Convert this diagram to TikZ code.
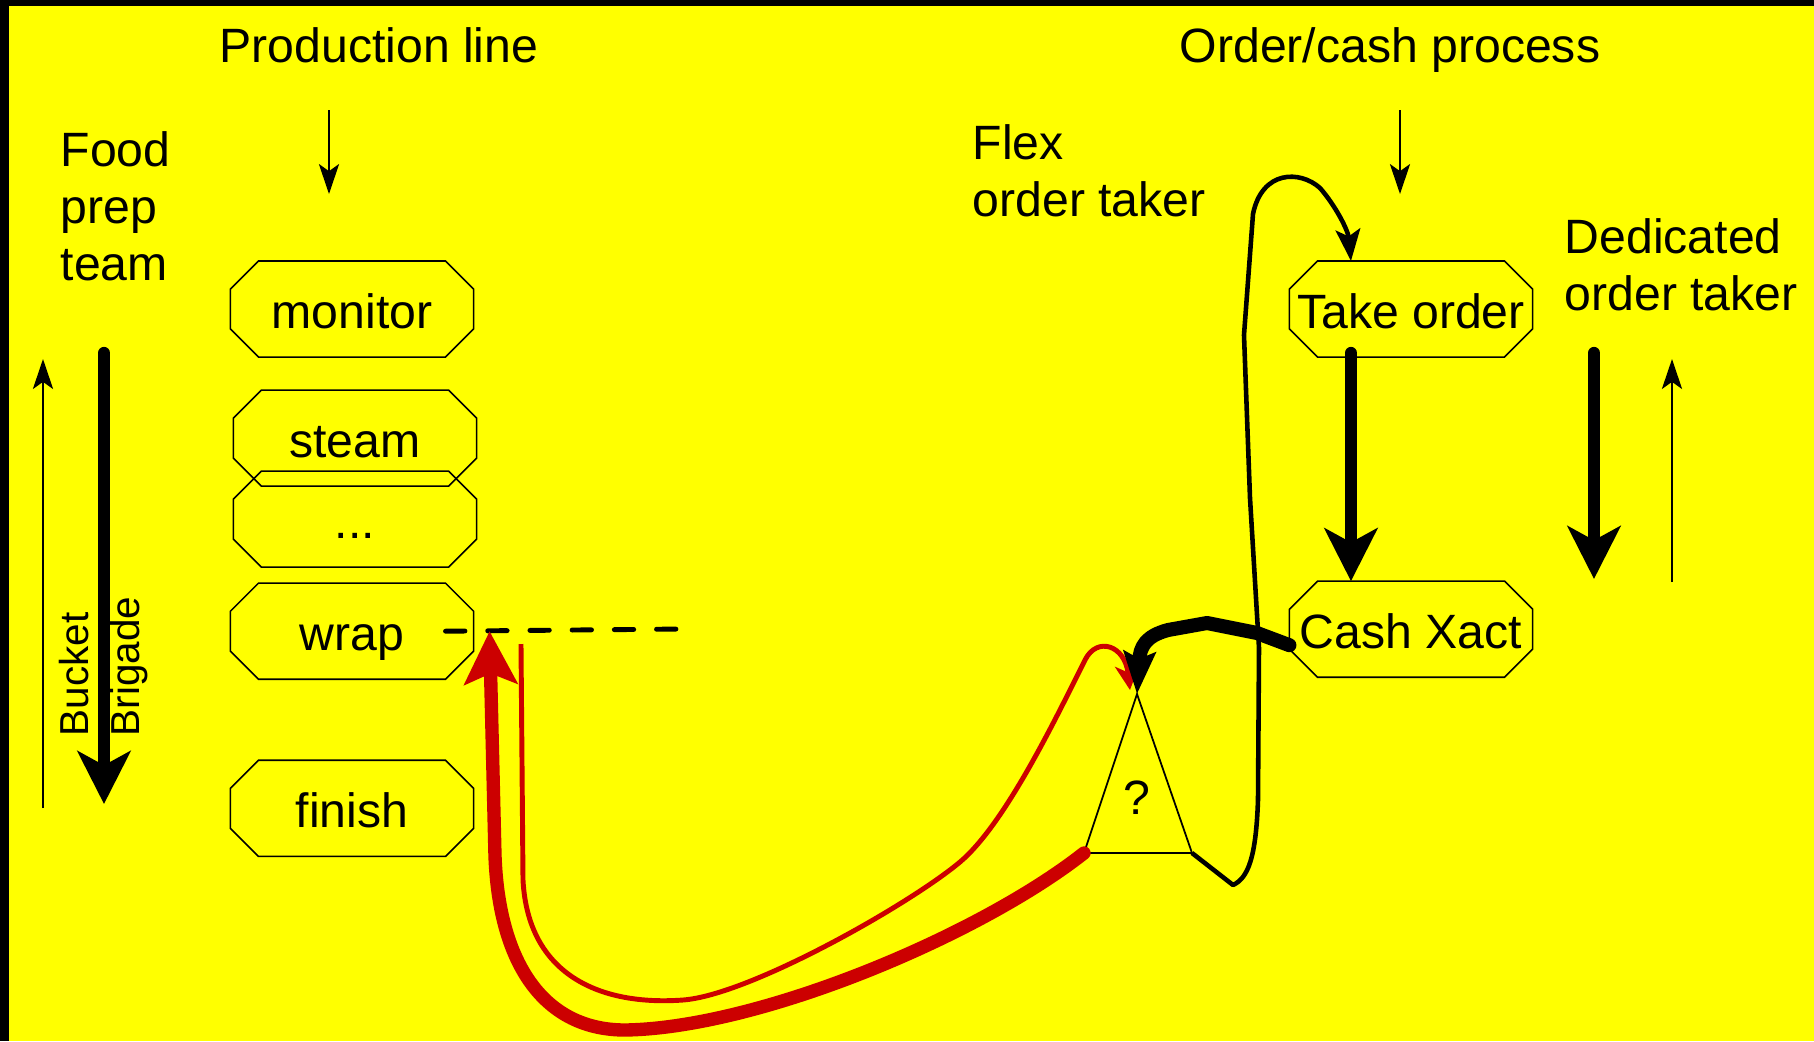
\documentclass[tikz,border=0pt]{standalone}
\usepackage{fontspec}
\setmainfont{Liberation Sans}
\usetikzlibrary{positioning,arrows.meta}
\definecolor{bgyellow}{RGB}{255,255,0}
\definecolor{flowred}{RGB}{204,0,0}
\newcommand{\diagfont}{\fontsize{13.7}{16.2}\selectfont}
\newcommand{\sidefont}{\fontsize{11.5}{14.5}\selectfont}

\begin{document}
\begin{tikzpicture}[
  x=0.01cm,y=-0.01cm,
  stage/.style={rectangle,minimum width=2.43cm,minimum height=0.96cm,inner sep=0pt,outer sep=0pt,text height=11.2pt,text depth=0.2pt,font=\diagfont},
  lbl/.style={inner sep=0pt,font=\diagfont,align=left},
  thinarr/.style={-{Stealth[length=8.5pt,width=5.7pt,inset=2pt]},line width=0.8pt},
  bigarr/.style={-{Stealth[length=15pt,width=15pt,inset=4pt]},line width=3.5pt,line cap=round},
  redbig/.style={flowred,-{Stealth[length=15pt,width=15pt,inset=3pt]},line width=3.8pt,line cap=round,line join=round},
  redthin/.style={flowred,-{Stealth[length=7pt,width=7pt,inset=2pt]},line width=1.4pt,line join=round},
  loop/.style={-{Stealth[length=9pt,width=7pt,inset=2pt]},line width=1.3pt,line join=round},
  handoff/.style={-{Stealth[length=12pt,width=9pt,inset=2pt]},line width=4pt,line cap=round,line join=round}
]
\useasboundingbox (0,0) rectangle (1814,1041);
\fill[bgyellow] (0,0) rectangle (1814,1041);
\fill (0,0) rectangle (1814,6);
\fill (0,0) rectangle (9,1041);

% headings and side labels
\node[lbl,anchor=base] (prod) at (379,62) {Production line};
\node[lbl,anchor=base] (order) at (1390,62) {Order/cash process};
\node[lbl,anchor=north west] (food) at (60,131) {Food\\prep\\team};
\node[lbl,anchor=north west] (flex) at (972,124) {Flex\\order taker};
\node[lbl,anchor=north west] (dedi) at (1564,218) {Dedicated\\order taker};
\node[lbl,font=\sidefont,rotate=90,anchor=west] (bucket) at (104,737) {Bucket\\Brigade};

% production line
\node[stage] (monitor) at (352,309) {monitor};
\node[stage,below=0.33cm of monitor,xshift=0.03cm] (steam) {steam};
\node[stage,below=-0.15cm of steam] (dots) {...};
\node[stage,below=0.16cm of dots,xshift=-0.03cm] (wrap) {wrap};
\node[stage,below=0.81cm of wrap] (finish) {finish};

% order/cash process
\node[stage] (take) at (1411,309) {Take order};
\node[stage,below=2.24cm of take] (cash) {Cash Xact};

% octagon outlines round the stages
\foreach \n in {monitor,steam,dots,wrap,finish,take,cash}
  \draw[line width=0.45pt] ([xshift=2.8mm]\n.north west) -- ([xshift=-2.8mm]\n.north east)
    -- ([yshift=-2.8mm]\n.north east) -- ([yshift=2.8mm]\n.south east)
    -- ([xshift=-2.8mm]\n.south east) -- ([xshift=2.8mm]\n.south west)
    -- ([yshift=2.8mm]\n.south west) -- ([yshift=-2.8mm]\n.north west) -- cycle;

\coordinate (pltop) at (329,110);
\coordinate (pltip) at (329,194);
\coordinate (octop) at (1400,110);
\coordinate (octip) at (1400,194);
\coordinate (bbdown) at (104,353);
\coordinate (bbdowntip) at (104,804);
\coordinate (bbup) at (43,808);
\coordinate (bbuptip) at (43,359);
\coordinate (dtdown) at (1594,353);
\coordinate (dtdowntip) at (1594,579);
\coordinate (dtup) at (1672,582);
\coordinate (dtuptip) at (1672,359);
\coordinate (dashend) at (683,629);
\coordinate (apex) at (1137,694);
\coordinate (trileft) at (1084,853);
\coordinate (triright) at (1192,853);
\coordinate (redstart) at (521,644);

\draw[thinarr] (pltop) -- (pltip);
\draw[thinarr] (octop) -- (octip);
\draw[bigarr] (bbdown) -- (bbdowntip);
\draw[thinarr] (bbup) -- (bbuptip);
\draw[bigarr] (dtdown) -- (dtdowntip);
\draw[thinarr] (dtup) -- (dtuptip);
\draw[bigarr] ([xshift=-0.6cm,yshift=0.04cm]take.south) -- ([xshift=-0.6cm]cash.north);

\draw[line width=1.4pt,line cap=round,dash pattern=on 5.5pt off 6.5pt] ([xshift=-0.28cm]wrap.east) -- (dashend);

% decision point
\draw[line width=0.5pt] (apex) -- (triright) -- (trileft) -- cycle;
\node[font=\diagfont,inner sep=0pt] (q) at (1137,798) {?};

\draw[redbig] (trileft) .. controls (980,935) and (760,1028) .. (625,1030)
  .. controls (545,1030) and (499,965) .. (495,856) -- ([xshift=0.16cm]wrap.east);
\draw[redthin] (redstart) -- (523,880) .. controls (528,975) and (600,1006) .. (683,1000)
  .. controls (750,995) and (910,904) .. (960,862)
  .. controls (1005,824) and (1055,720) .. (1085,660)
  .. controls (1097,636) and (1125,645) .. ([xshift=-0.07cm,yshift=0.04cm]apex);
\draw[loop] (triright) -- (1233,885) .. controls (1248,878) and (1256,858) .. (1258,800)
  -- (1259,648) -- (1250,498) -- (1244,335) -- (1253,214)
  .. controls (1262,170) and (1300,170) .. (1320,188)
  .. controls (1335,205) and (1348,230) .. ([xshift=-0.6cm]take.north);
\draw[handoff] ([yshift=-0.16cm]cash.west) -- (1257,633) -- (1207,623) -- (1168,630)
  .. controls (1146,636) and (1140,646) .. (apex);
\end{tikzpicture}
\end{document}
